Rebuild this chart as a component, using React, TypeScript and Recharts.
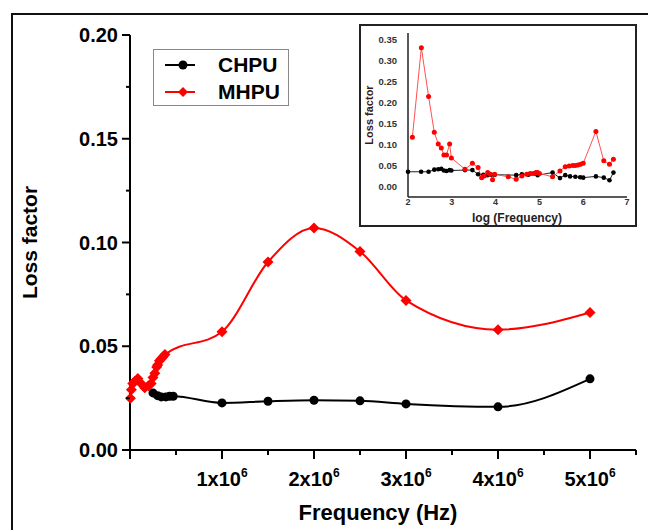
import { LineChart, Line, XAxis, YAxis } from 'recharts';

// main chart, frequency in MHz units (x1e6 Hz)
const chpuFreq = [0.25, 0.3, 0.34, 0.39, 0.43, 0.47, 1, 1.5, 2, 2.5, 3, 4, 5];
const chpuLoss = [0.0275, 0.0262, 0.0256, 0.0256, 0.0259, 0.0259, 0.0227, 0.0235, 0.024, 0.0237, 0.0222, 0.0208, 0.0343];

const mhpuFreq = [0.005, 0.015, 0.03, 0.05, 0.085, 0.12, 0.16, 0.2, 0.23, 0.25, 0.27, 0.29, 0.3, 0.32, 0.34, 0.36, 0.38, 1, 1.5, 2, 2.5, 3, 4, 5];
const mhpuLoss = [0.025, 0.029, 0.032, 0.033, 0.0345, 0.032, 0.030, 0.031, 0.032, 0.035, 0.037, 0.040, 0.041, 0.043, 0.044, 0.045, 0.046, 0.057, 0.0906, 0.107, 0.0957, 0.0721, 0.058, 0.0663];

const xTicks = [0, 0.5, 1, 1.5, 2, 2.5, 3, 3.5, 4, 4.5, 5, 5.5];
const yTicks = [0, 0.025, 0.05, 0.075, 0.1, 0.125, 0.15, 0.175, 0.2];

// inset, log(frequency)
const insetRedLog = [2.1, 2.305, 2.47, 2.6, 2.69, 2.76, 2.82, 2.88, 2.95, 2.99, 3.3, 3.47, 3.6, 3.68, 3.74, 3.82, 3.88, 3.93, 3.98, 4.29, 4.47, 4.6, 4.71, 4.79, 4.86, 4.92, 4.96, 5.0, 5.3, 5.47, 5.59, 5.68, 5.76, 5.82, 5.88, 5.94, 6.0, 6.29, 6.47, 6.6, 6.69];
const insetRedLoss = [0.117, 0.330, 0.214, 0.129, 0.101, 0.0915, 0.075, 0.075, 0.101, 0.068, 0.041, 0.055, 0.045, 0.021, 0.025, 0.033, 0.029, 0.016, 0.029, 0.023, 0.017, 0.025, 0.029, 0.031, 0.031, 0.033, 0.033, 0.031, 0.023, 0.037, 0.047, 0.049, 0.050, 0.050, 0.051, 0.053, 0.055, 0.131, 0.061, 0.053, 0.065];
const insetBlackLog = [2.0, 2.3, 2.47, 2.6, 2.69, 2.76, 2.82, 2.88, 2.95, 2.99, 3.3, 3.47, 3.6, 3.72, 3.82, 3.9, 3.98, 4.47, 4.6, 4.75, 4.96, 5.3, 5.47, 5.59, 5.7, 5.82, 5.93, 6.0, 6.29, 6.47, 6.6, 6.69];
const insetBlackLoss = [0.035, 0.035, 0.035, 0.040, 0.041, 0.042, 0.038, 0.037, 0.039, 0.038, 0.039, 0.039, 0.029, 0.028, 0.027, 0.028, 0.028, 0.027, 0.029, 0.028, 0.027, 0.033, 0.020, 0.027, 0.024, 0.023, 0.022, 0.021, 0.024, 0.021, 0.015, 0.033];
const insetXTicks = [2, 3, 4, 5, 6, 7];
const insetYTicks = [0, 0.05, 0.1, 0.15, 0.2, 0.25, 0.3, 0.35];

const FONT = '"Liberation Sans", Arial, sans-serif';

const zip = (xs: number[], ys: number[]) => xs.map((x, i) => ({ x, y: ys[i] }));

const MainXTick = (props: any) => {
    const { x, y, payload } = props;
    const v = payload.value;
    const major = Number.isInteger(v) && v > 0;
    return <g>
        <line x1={x} x2={x} y1={y} y2={y + (Number.isInteger(v) ? 9 : 5)} stroke="#000" strokeWidth={2} />
        {major &&
            <text x={x} y={y + 36} textAnchor="middle" fontFamily={FONT} fontWeight="bold" fontSize={20} fill="#000">
                <tspan>{v}x10</tspan>
                <tspan dy={-9} fontSize={12}>6</tspan>
            </text>}
    </g>;
};

const MainYTick = (props: any) => {
    const { x, y, payload } = props;
    const v = payload.value;
    const major = Math.abs(Math.round(v * 20) - v * 20) < 1e-6;
    return <g>
        <line x1={x} x2={x - (major ? 8 : 4)} y1={y} y2={y} stroke="#000" strokeWidth={2} />
        {major &&
            <text x={x - 12} y={y + 7} textAnchor="end" fontFamily={FONT} fontWeight="bold" fontSize={20} fill="#000">
                {v.toFixed(2)}
            </text>}
    </g>;
};

const InsetXTick = (props: any) => {
    const { x, y, payload } = props;
    return <text x={x} y={y + 8} textAnchor="middle" fontFamily={FONT} fontWeight="bold" fontSize={9} fill="#333">
        {payload.value}
    </text>;
};

const Diamond = (props: any) => {
    const { cx, cy } = props;
    if (cx == null || cy == null) return null;
    const r = 5.5;
    return <polygon points={`${cx},${cy - r} ${cx + r},${cy} ${cx},${cy + r} ${cx - r},${cy}`} fill="#ff0000" stroke="none" />;
};

const Inset = () => {
    return <div style={{ position: 'absolute', left: 359, top: 24, width: 274, height: 199, border: '2px solid #222', background: '#fff' }}>
        <LineChart width={274} height={199} margin={{ top: 7, right: 8, bottom: 4, left: 4 }}>
            <XAxis dataKey="x" type="number" domain={[2, 7]} ticks={insetXTicks} tickLine={false}
                axisLine={{ stroke: '#222', strokeWidth: 1.5 }} height={24} tickMargin={0} tickSize={0}
                tick={<InsetXTick />} interval={0} />
            <YAxis type="number" domain={[-0.025, 0.365]} ticks={insetYTicks} tickLine={false} width={43}
                axisLine={{ stroke: '#222', strokeWidth: 1.5 }} tickMargin={5} allowDataOverflow interval={0}
                tickFormatter={(v: number) => v.toFixed(2)}
                tick={{ fontFamily: FONT, fontWeight: 'bold', fontSize: 9.5, fill: '#333' }}
                label={{ value: 'Loss factor', angle: -90, position: 'insideLeft', offset: 0, dx: 4, fontFamily: FONT, fontWeight: 'bold', fontSize: 11, fill: '#3a1a10', style: { textAnchor: 'middle' } }} />
            <Line data={zip(insetBlackLog, insetBlackLoss)} dataKey="y" type="linear" stroke="#222" strokeWidth={1}
                dot={{ r: 2.3, fill: '#000', stroke: 'none' }} isAnimationActive={false} />
            <Line data={zip(insetRedLog, insetRedLoss)} dataKey="y" type="linear" stroke="#ff5050" strokeWidth={1}
                dot={{ r: 2.5, fill: '#ff0000', stroke: 'none' }} isAnimationActive={false} />
        </LineChart>
        <div style={{ position: 'absolute', left: 56, width: 200, top: 186, textAlign: 'center', fontFamily: FONT, fontWeight: 'bold', fontSize: 12, lineHeight: '13px', color: '#222' }}>
            log (Frequency)
        </div>
    </div>;
};

const Legend = () => {
    return <div style={{ position: 'absolute', left: 153, top: 49, width: 134, height: 55, border: '1px solid #888', background: '#fff' }}>
        <svg width={134} height={55}>
            <line x1={11} x2={41} y1={15} y2={15} stroke="#000" strokeWidth={2} />
            <circle cx={29} cy={15} r={4.5} fill="#000" />
            <text x={64} y={22} fontFamily={FONT} fontWeight="bold" fontSize={21} fill="#000">CHPU</text>
            <line x1={11} x2={41} y1={42} y2={42} stroke="#ff0000" strokeWidth={2} />
            <polygon points="29,37 34,42 29,47 24,42" fill="#ff0000" />
            <text x={64} y={49} fontFamily={FONT} fontWeight="bold" fontSize={21} fill="#000">MHPU</text>
        </svg>
    </div>;
};

const App = () => {
    return <div style={{ position: 'absolute', left: 0, top: 0, width: 648, height: 530, overflow: 'hidden', background: '#fff' }}>
        <div style={{ position: 'absolute', left: 11, top: 13, width: 660, height: 540, border: '2px solid #111' }} />
        <div style={{ position: 'absolute', left: 0, top: 0 }}>
            <LineChart width={648} height={530} margin={{ top: 35, right: 12, bottom: 30, left: 10 }}>
                <XAxis dataKey="x" type="number" domain={[0, 5.5]} ticks={xTicks} tick={<MainXTick />}
                    tickLine={false} tickSize={0} tickMargin={0} height={50} interval={0}
                    axisLine={{ stroke: '#000', strokeWidth: 2 }}
                    label={{ value: 'Frequency (Hz)', position: 'insideBottom', offset: -20, dx: -5, fontFamily: FONT, fontWeight: 'bold', fontSize: 22, fill: '#000' }} />
                <YAxis type="number" domain={[0, 0.2]} ticks={yTicks} tick={<MainYTick />} interval={0}
                    tickLine={false} tickSize={0} tickMargin={0} width={120}
                    axisLine={{ stroke: '#000', strokeWidth: 2 }}
                    label={{ value: 'Loss factor', angle: -90, position: 'insideLeft', offset: 0, dx: 20, fontFamily: FONT, fontWeight: 'bold', fontSize: 21, fill: '#000', style: { textAnchor: 'middle' } }} />
                <Line data={zip(chpuFreq, chpuLoss)} dataKey="y" type="monotone" stroke="#000" strokeWidth={2}
                    dot={{ r: 4.5, fill: '#000', stroke: 'none' }} isAnimationActive={false} />
                <Line data={zip(mhpuFreq, mhpuLoss)} dataKey="y" type="monotone" stroke="#ff0000" strokeWidth={2}
                    dot={<Diamond />} isAnimationActive={false} />
            </LineChart>
        </div>
        <Legend />
        <Inset />
    </div>;
};

export default App;
